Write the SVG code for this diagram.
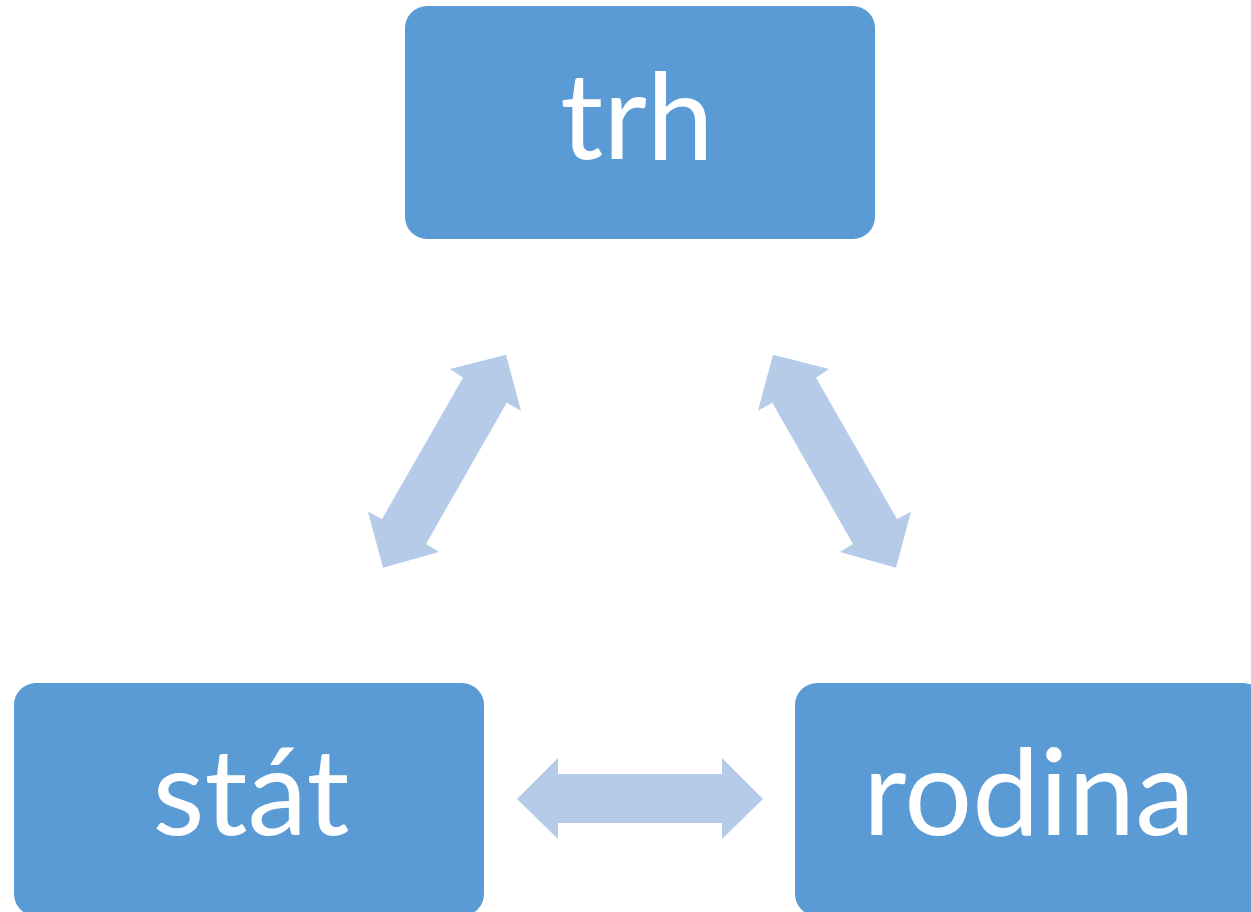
<svg xmlns="http://www.w3.org/2000/svg" width="1251" height="912" viewBox="0 0 1251 912">
<style>
.box{fill:#5B9BD5}
.lbl{fill:#FFFFFF;font-family:Lato,"Open Sans","Liberation Sans",sans-serif;font-size:120px;text-anchor:middle}
.arr{fill:#B6CBE8}
</style>
<rect width="1251" height="912" fill="#FFFFFF"/>
<g id="connectors">
<path id="arrow-trh-stat" class="arr" d="M506,354.7 L521,410.7 L506.7,402.7 L426,544 L439,552 L383,567.7 L368,511.7 L382,519 L463,377.7 L450,369 Z"/>
<path id="arrow-trh-rodina" class="arr" transform="translate(1279,0) scale(-1,1)" d="M506,354.7 L521,410.7 L506.7,402.7 L426,544 L439,552 L383,567.7 L368,511.7 L382,519 L463,377.7 L450,369 Z"/>
<path id="arrow-stat-rodina" class="arr" d="M517,799 L558,758 L558,774 L722,774 L722,758 L763,799 L722,839 L722,823 L558,823 L558,839 Z"/>
</g>
<g id="node-trh">
<rect class="box" x="405" y="6" width="470" height="233" rx="22" ry="22"/>
<text class="lbl" x="637" y="159">trh</text>
</g>
<g id="node-stat">
<rect class="box" x="14" y="683" width="470" height="233" rx="22" ry="22"/>
<text class="lbl" x="251" y="835">stát</text>
</g>
<g id="node-rodina">
<rect class="box" x="795" y="683" width="470" height="233" rx="22" ry="22"/>
<text class="lbl" x="1029" y="835">rodina</text>
</g>
</svg>
